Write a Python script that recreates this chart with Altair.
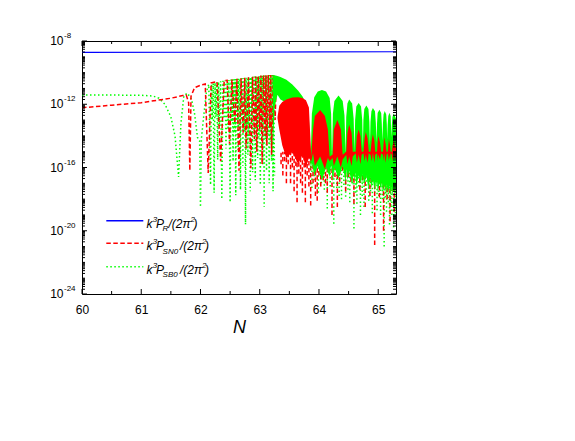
import altair as alt
import pandas as pd
import numpy as np

# ---------------- data (log10 of k^3 P / (2 pi^2)) ----------------
blue_N = [60.0, 62.0, 64.0, 65.3]
blue_logP = [-8.72, -8.71, -8.69, -8.68]

red_N = [60.0, 60.5, 61.0, 61.5, 61.7, 61.76, 61.8, 61.82, 61.84, 61.9, 62.0, 62.08,
         62.13, 62.18, 62.28, 62.34, 62.4, 62.45, 62.49, 62.53, 62.58, 62.615, 62.65,
         62.685, 62.72, 62.745, 62.77, 62.81, 62.85, 62.88, 62.91, 62.93, 62.95, 62.975,
         63.0, 63.02, 63.04, 63.065, 63.09, 63.105, 63.12, 63.145, 63.17, 63.185, 63.2,
         63.23, 63.26, 63.28]
red_logP = [-12.22, -12.06, -11.9, -11.62, -11.45, -11.42, -11.9, -16.2, -11.5, -10.95, -10.8, -10.72,
            -16.35, -10.65, -10.57, -15.6, -10.5, -10.48, -14.5, -10.43, -13.2, -10.39, -16.2,
            -10.36, -13.8, -10.33, -14.8, -10.29, -16.05, -10.26, -14.2, -10.24, -15.0, -10.21,
            -13.6, -10.19, -15.8, -10.17, -14.0, -10.16, -14.6, -10.15, -13.5, -10.15, -15.2,
            -10.17, -13.0, -10.2]

green_N = [60.0, 60.5, 61.0, 61.2, 61.3, 61.4, 61.5, 61.57, 61.63, 61.67, 61.72, 61.78,
           61.85, 61.9, 61.95, 61.985, 62.0, 62.015, 62.05, 62.1, 62.14,
           62.17, 62.185, 62.2, 62.215, 62.23, 62.245, 62.26, 62.275, 62.29, 62.305,
           62.32, 62.34, 62.36, 62.38, 62.4, 62.415, 62.43, 62.45, 62.465, 62.48,
           62.5, 62.515, 62.53, 62.54, 62.55, 62.56, 62.575, 62.585, 62.595, 62.605,
           62.615, 62.625, 62.635, 62.645, 62.655, 62.665, 62.675, 62.685, 62.695, 62.705,
           62.715, 62.725, 62.74, 62.75, 62.76, 62.77, 62.78, 62.79, 62.8, 62.81,
           62.82, 62.83, 62.84, 62.85, 62.86, 62.87, 62.88, 62.89, 62.9, 62.91,
           62.925, 62.935, 62.945, 62.955, 62.965, 62.975, 62.985, 62.995, 63.01, 63.02,
           63.03, 63.04, 63.05, 63.06, 63.075, 63.085, 63.095, 63.105, 63.115, 63.125,
           63.135, 63.145, 63.16, 63.17, 63.18, 63.19, 63.2, 63.21, 63.225, 63.235, 63.25]
green_logP = [-11.42, -11.42, -11.43, -11.48, -11.62, -12.0, -12.8, -14.0, -16.6, -13.2, -11.45, -11.3,
              -11.7, -12.6, -14.1, -14.3, -18.5, -14.2, -12.9, -11.2, -10.75,
              -17.1, -10.72, -13.0, -10.68, -17.6, -10.64, -12.8, -10.61, -15.5, -10.58,
              -13.4, -10.55, -18.0, -10.52, -12.9, -10.5, -14.8, -10.48, -13.6, -10.46,
              -18.2, -10.44, -13.1, -10.43, -15.6, -10.42, -13.8, -10.41, -17.75, -10.4,
              -13.2, -10.39, -14.9, -10.38, -13.5, -10.37, -17.4, -10.36, -13.0, -10.35,
              -15.9, -10.34, -13.7, -10.33, -19.6, -10.32, -13.3, -10.31, -15.2, -10.3,
              -14.0, -10.29, -17.5, -10.28, -13.4, -10.27, -16.3, -10.26, -13.8, -10.25,
              -16.8, -10.24, -13.5, -10.23, -15.4, -10.22, -14.1, -10.21, -17.1, -10.2,
              -13.6, -10.19, -15.8, -10.18, -18.5, -10.18, -14.2, -10.17, -16.2, -10.16,
              -13.9, -10.16, -17.0, -10.15, -14.4, -10.15, -15.6, -10.15, -17.5, -10.16, -16.5]

# dense region: green arches (top / ragged bottom of the filled band)
gf_N = [63.22, 63.25, 63.3, 63.35, 63.45, 63.55, 63.65, 63.72, 63.79, 63.83, 63.86,
        63.88, 63.92, 63.98, 64.05, 64.12, 64.18, 64.205, 64.22,
        64.235, 64.26, 64.33, 64.40, 64.43, 64.45,
        64.46, 64.48, 64.51, 64.56, 64.585, 64.6,
        64.61, 64.63, 64.67, 64.71, 64.73, 64.74,
        64.75, 64.765, 64.80, 64.835, 64.85, 64.86,
        64.87, 64.885, 64.91, 64.945, 64.96, 64.97,
        64.98, 64.99, 65.02, 65.05, 65.06, 65.07,
        65.08, 65.09, 65.11, 65.135, 65.145, 65.15,
        65.16, 65.17, 65.19, 65.21, 65.215, 65.22,
        65.23, 65.24, 65.26, 65.28, 65.3]
gf_top = [-10.16, -10.17, -10.22, -10.28, -10.45, -10.75, -11.15, -11.5, -12.0, -12.8, -15.5,
          -12.6, -11.55, -11.2, -11.1, -11.2, -11.6, -12.6, -15.5,
          -12.6, -11.8, -11.44, -11.8, -12.7, -15.2,
          -12.8, -11.95, -11.7, -11.95, -12.9, -15.0,
          -13.0, -12.15, -11.92, -12.15, -13.0, -14.8,
          -13.0, -12.3, -12.08, -12.3, -13.1, -14.6,
          -13.1, -12.45, -12.23, -12.45, -13.2, -14.4,
          -13.2, -12.55, -12.34, -12.55, -13.2, -14.3,
          -13.2, -12.65, -12.43, -12.65, -13.3, -14.2,
          -13.3, -12.75, -12.53, -12.75, -13.3, -14.1,
          -13.3, -12.8, -12.59, -12.75, -12.9]
gf_bottom = [-15.0, -12.2, -11.4, -11.7, -11.9, -11.8, -11.8, -11.9, -12.4, -13.5, -16.2,
             -15.7, -16.5, -15.9, -16.8, -16.0, -16.6, -15.8, -16.4,
             -16.9, -16.0, -16.7, -15.9, -16.5, -17.0,
             -16.1, -16.8, -16.2, -17.1, -16.4, -16.9,
             -16.3, -17.2, -16.5, -17.0, -16.4, -17.3,
             -16.6, -17.1, -16.5, -17.4, -16.7, -17.2,
             -16.6, -17.3, -16.8, -17.5, -16.9, -17.2,
             -16.8, -17.6, -17.0, -17.4, -16.9, -17.7,
             -17.0, -17.5, -17.1, -17.8, -17.0, -17.6,
             -17.2, -17.7, -17.1, -17.9, -17.3, -17.6,
             -17.2, -17.8, -17.3, -17.6, -17.4]

# dense region: red hump and arches
rf_N = [63.3, 63.33, 63.38, 63.45, 63.55, 63.65, 63.72, 63.78, 63.83, 63.87,
        63.9, 63.93, 64.02, 64.1, 64.15, 64.18,
        64.23, 64.25, 64.31, 64.37, 64.4,
        64.46, 64.48, 64.51, 64.55, 64.57,
        64.62, 64.64, 64.67, 64.70, 64.72,
        64.75, 64.77, 64.79, 64.82, 64.84,
        64.87, 64.89, 64.91, 64.935, 64.95,
        64.98, 64.99, 65.0, 65.03, 65.05,
        65.08, 65.09, 65.1, 65.125, 65.14,
        65.16, 65.17, 65.18, 65.2, 65.21,
        65.23, 65.24, 65.26, 65.28, 65.3]
rf_top = [-12.8, -12.1, -11.85, -11.7, -11.58, -11.55, -11.6, -11.75, -12.2, -15.3,
          -13.6, -12.75, -12.37, -12.75, -13.6, -15.3,
          -15.2, -13.6, -13.0, -13.6, -15.2,
          -15.0, -13.8, -13.3, -13.8, -15.0,
          -15.0, -14.0, -13.6, -14.0, -15.0,
          -15.0, -14.15, -13.75, -14.15, -15.0,
          -15.0, -14.3, -13.9, -14.3, -15.0,
          -15.0, -14.4, -14.0, -14.4, -15.0,
          -15.0, -14.5, -14.1, -14.5, -15.0,
          -15.0, -14.6, -14.2, -14.6, -15.0,
          -15.0, -14.65, -14.27, -14.6, -14.8]
rf_bottom = [-12.9, -13.6, -14.6, -15.4, -15.0, -15.8, -15.2, -16.0, -15.4, -15.6,
             -15.1, -15.9, -15.3, -16.1, -15.4, -15.6,
             -15.4, -15.9, -15.3, -16.0, -15.5,
             -15.2, -15.8, -15.3, -15.9, -15.3,
             -15.1, -15.7, -15.2, -15.8, -15.2,
             -15.1, -15.6, -15.2, -15.7, -15.1,
             -15.2, -15.6, -15.1, -15.7, -15.2,
             -15.1, -15.6, -15.2, -15.5, -15.1,
             -15.2, -15.6, -15.1, -15.7, -15.2,
             -15.1, -15.6, -15.2, -15.5, -15.1,
             -15.2, -15.6, -15.1, -15.5, -15.3]

# deepest dips below the dense band
red_floor = -15.0
red_spike_N = [63.36, 63.39, 63.42, 63.45, 63.48, 63.52, 63.55, 63.58, 63.61, 63.63, 63.66,
               63.69, 63.72, 63.75, 63.77, 63.8, 63.83, 63.86, 63.9, 63.94, 63.97, 64.0,
               64.03, 64.07, 64.11, 64.14, 64.18, 64.22, 64.27, 64.31, 64.35, 64.4, 64.45,
               64.5, 64.54, 64.59, 64.64, 64.69, 64.74, 64.78, 64.82, 64.86, 64.9, 64.94,
               64.97, 65.02, 65.06, 65.09, 65.12, 65.15, 65.18, 65.2, 65.24, 65.27]
red_spike_logP = [-15.8, -16.5, -15.6, -17.0, -15.8, -17.0, -16.0, -17.5, -15.9, -18.2, -16.4,
                  -17.0, -17.6, -16.0, -18.2, -16.5, -17.2, -18.4, -17.0, -17.8, -18.1, -16.5,
                  -17.2, -16.8, -17.0, -17.6, -16.4, -19.0, -16.6, -18.5, -16.9, -16.2, -17.5,
                  -16.6, -16.9, -18.3, -16.5, -17.4, -16.8, -18.5, -16.6, -17.8, -16.9, -20.9,
                  -16.8, -17.9, -17.0, -20.0, -17.2, -18.0, -17.1, -19.4, -17.5, -18.8]
green_floor = -15.8
green_spike_N = [63.88, 63.93, 63.99, 64.04, 64.09, 64.14, 64.19, 64.25, 64.3, 64.34, 64.38,
                 64.42, 64.45, 64.49, 64.52, 64.56, 64.59, 64.62, 64.64, 64.67, 64.7, 64.73,
                 64.76, 64.8, 64.84, 64.87, 64.9, 64.94, 64.98, 65.01, 65.04, 65.07, 65.1,
                 65.12, 65.14, 65.17, 65.19, 65.21, 65.23, 65.26, 65.28, 65.29]
green_spike_logP = [-17.3, -16.8, -17.6, -17.0, -17.4, -18.6, -17.2, -19.55, -17.3, -17.8, -18.0,
                    -17.1, -17.85, -17.4, -18.2, -17.0, -19.85, -17.6, -18.3, -17.2, -19.0, -17.8,
                    -18.5, -17.4, -18.1, -17.5, -18.9, -17.6, -18.7, -17.8, -19.0, -18.0, -21.0,
                    -17.9, -18.8, -18.2, -19.6, -18.4, -19.0, -19.8, -18.6, -18.9]

# axis ticks / labels
x_tick_labels = [60, 61, 62, 63, 64, 65]
x_minor_ticks = [60.5, 61.5, 62.5, 63.5, 64.5]
y_label_exps = [-24, -20, -16, -12, -8]
y_label_text = ['-24', '-20', '-16', '-12', '-8']

legend_subs = ['R', 'SN0', 'SB0']

# ---------------- chart ----------------
W, H = 314, 253
FONT = 'Liberation Sans'
xs = alt.Scale(domain=[60, 65.3], nice=False, zero=False)
ys = alt.Scale(type='log', domain=[1e-24, 1e-8], nice=False)
x_axis = alt.Axis(values=x_tick_labels, format='d', ticks=False, domain=False, grid=False,
                  labelFont=FONT, labelFontSize=12, labelColor='black', labelPadding=10,
                  labelFlush=False, labelOverlap=False,
                  title='N', titleFont=FONT, titleFontSize=18, titleFontStyle='italic',
                  titleFontWeight='normal', titleColor='black', titlePadding=3)


def X():
    return alt.X('N:Q', scale=xs, axis=x_axis)


def Y(f='P'):
    return alt.Y(f + ':Q', scale=ys, axis=None)


def line_df(n, lp):
    return pd.DataFrame({'N': n, 'P': 10.0 ** np.array(lp), 'i': range(len(n))})


def band_df(n, top, bot):
    return pd.DataFrame({'N': n, 'P': 10.0 ** np.array(top), 'P2': 10.0 ** np.array(bot)})


def spike_df(n, floor, lp):
    # drawn from the dip upwards, so the dash pattern starts at each dip
    return pd.DataFrame({'N': n, 'P': 10.0 ** np.array(lp), 'P2': [10.0 ** floor] * len(n)})


RED, GREEN, BLUE = '#ff0000', '#00ff00', '#0000ff'
RED_DASH, GREEN_DASH = [4.5, 2.5], [1.5, 2.5]

layers = []
layers.append(alt.Chart(line_df(blue_N, blue_logP)).mark_line(color=BLUE, strokeWidth=1.2, clip=True)
              .encode(x=X(), y=Y(), order='i:Q'))
layers.append(alt.Chart(line_df(green_N, green_logP)).mark_line(color=GREEN, strokeWidth=1.5,
              strokeDash=GREEN_DASH, clip=True).encode(x=X(), y=Y(), order='i:Q'))
layers.append(alt.Chart(line_df(red_N, red_logP)).mark_line(color=RED, strokeWidth=1.5,
              strokeDash=RED_DASH, clip=True).encode(x=X(), y=Y(), order='i:Q'))
layers.append(alt.Chart(spike_df(green_spike_N, green_floor, green_spike_logP)).mark_rule(
              color=GREEN, strokeWidth=1.5, strokeDash=GREEN_DASH, clip=True)
              .encode(x=X(), y=Y('P'), y2=alt.Y2('P2')))
layers.append(alt.Chart(spike_df(red_spike_N, red_floor, red_spike_logP)).mark_rule(
              color=RED, strokeWidth=1.5, strokeDash=RED_DASH, clip=True)
              .encode(x=X(), y=Y('P'), y2=alt.Y2('P2')))
layers.append(alt.Chart(band_df(gf_N, gf_top, gf_bottom)).mark_area(color=GREEN, opacity=1, clip=True)
              .encode(x=X(), y=Y('P'), y2=alt.Y2('P2')))
layers.append(alt.Chart(band_df(rf_N, rf_top, rf_bottom)).mark_area(color=RED, opacity=1, clip=True)
              .encode(x=X(), y=Y('P'), y2=alt.Y2('P2')))

# ticks (drawn inward on all four sides)
y_major = [10.0 ** e for e in y_label_exps]
y_minor = []
for d in range(-24, -8):
    for k in range(1, 10):
        if k == 1 and d % 4 == 0:
            continue
        y_minor.append(k * 10.0 ** d)
for vals, ln in [(y_major, 5), (y_minor, 3)]:
    df = pd.DataFrame({'P': vals})
    layers.append(alt.Chart(df).mark_rule(color='black', strokeWidth=1)
                  .encode(y=Y(), x=alt.value(0), x2=alt.value(ln)))
    layers.append(alt.Chart(df).mark_rule(color='black', strokeWidth=1)
                  .encode(y=Y(), x=alt.value(W), x2=alt.value(W - ln)))
for vals, ln in [(x_tick_labels, 5), (x_minor_ticks, 3)]:
    df = pd.DataFrame({'N': vals})
    layers.append(alt.Chart(df).mark_rule(color='black', strokeWidth=1)
                  .encode(x=X(), y=alt.value(H), y2=alt.value(H - ln)))
    layers.append(alt.Chart(df).mark_rule(color='black', strokeWidth=1)
                  .encode(x=X(), y=alt.value(0), y2=alt.value(ln)))

# y tick labels 10^n
ylab = pd.DataFrame({'P': y_major, 'base': ['10'] * len(y_major), 'exp': y_label_text})
layers.append(alt.Chart(ylab).mark_text(align='right', baseline='middle', font=FONT, fontSize=12,
              color='black').encode(y=Y(), x=alt.value(-18.5), text='base:N'))
layers.append(alt.Chart(ylab).mark_text(align='left', baseline='middle', font=FONT, fontSize=8,
              color='black', dy=-5).encode(y=Y(), x=alt.value(-18), text='exp:N'))

# legend (manual, for sub/superscripts)
one = alt.Data(values=[{}])


def txt(s, x, y, size):
    return alt.Chart(one).mark_text(text=s, font=FONT, fontStyle='italic', fontSize=size,
                                    align='left', baseline='alphabetic', color='black') \
        .encode(x=alt.value(x), y=alt.value(y))


rows = [(179.7, BLUE, None, 86.5), (202.3, RED, RED_DASH, 98.0), (225.7, GREEN, GREEN_DASH, 98.0)]
for (yy, col, dash, xq), sub in zip(rows, legend_subs):
    kw = dict(color=col, strokeWidth=1.5)
    if dash:
        kw['strokeDash'] = dash
    layers.append(alt.Chart(one).mark_rule(**kw).encode(x=alt.value(24.3), x2=alt.value(61.3),
                                                        y=alt.value(yy)))
    layers.append(txt('k', 64.5, yy + 7, 12))
    layers.append(txt('3', 70.8, yy + 1, 8))
    layers.append(txt('P', 74.0, yy + 7, 12))
    layers.append(txt(sub, 80.6, yy + 10.5, 8))
    layers.append(txt('/(2\u03c0', xq, yy + 7, 12))
    layers.append(txt('2', xq + 22.0, yy + 1, 8))
    layers.append(txt(')', xq + 25.0, yy + 7, 12))

chart = alt.layer(*layers).properties(
    width=W, height=H,
    autosize=alt.AutoSizeParams(type='none'),
    padding={'left': 74, 'top': 33, 'right': 160, 'bottom': 125},
    background='white',
).configure_view(stroke='black', strokeWidth=1)

chart.save('out.html', embed_options={'renderer': 'svg', 'actions': False})
